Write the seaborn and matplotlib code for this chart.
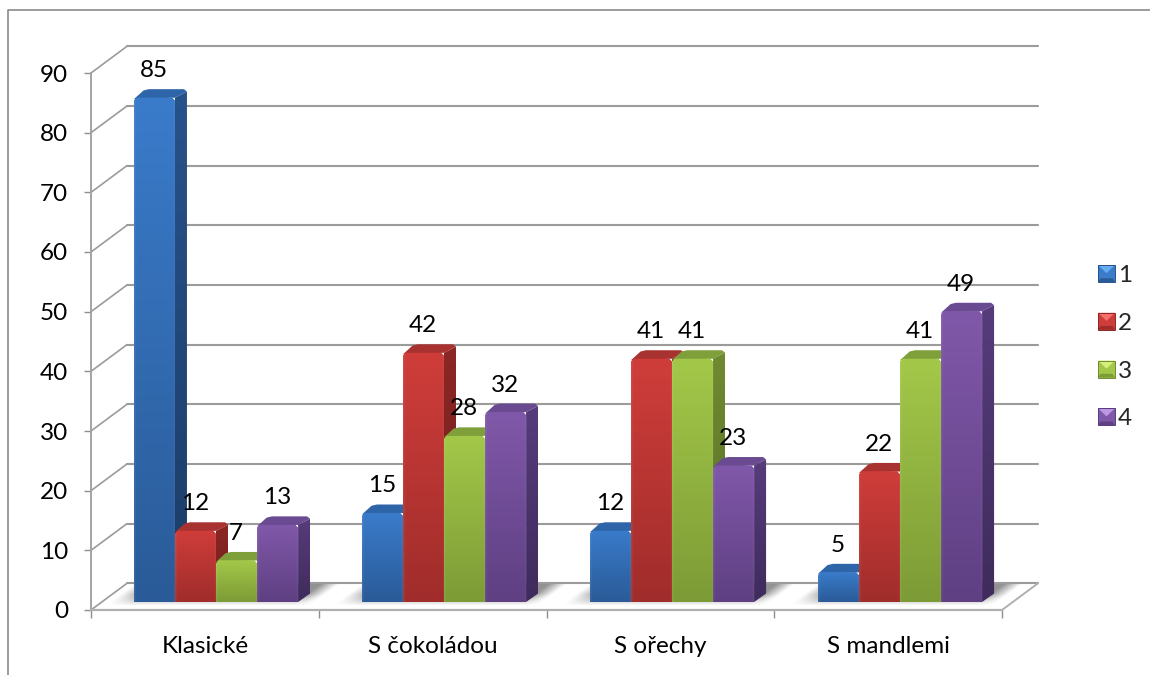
import numpy as np
import pandas as pd
import matplotlib
matplotlib.use("Agg")
import matplotlib.pyplot as plt
from matplotlib.colors import to_rgb
from matplotlib.legend_handler import HandlerBase
from matplotlib.lines import Line2D
from matplotlib.patches import Patch, Polygon, Rectangle
import seaborn as sns

categories = ["Klasické", "S čokoládou", "S ořechy", "S mandlemi"]
series_names = ["1", "2", "3", "4"]
series_1 = [85, 15, 12, 5]
series_2 = [12, 42, 41, 22]
series_3 = [7, 28, 41, 41]
series_4 = [13, 32, 23, 49]
y_ticks = list(range(0, 100, 10))

face_top = ["#3a7bca", "#cf3d3a", "#a3c849", "#8058a9"]
face_bottom = ["#2a5b98", "#a02d2b", "#7d9b36", "#5f4083"]
side_top = ["#27528a", "#8c2725", "#6f8b30", "#573c7c"]
side_bottom = ["#1c3d66", "#6f1e1c", "#586e26", "#3f2b5c"]
lid_color = ["#2e64a8", "#a83230", "#7f9f3a", "#6a4a91"]
bevel_light = ["#66aef0", "#f56f6c", "#d4f07a", "#bd97e6"]

W, H = 1150, 675
GRID_C = "#9b9b9b"
AXIS_C = "#8f8f8f"
FONT_PT = 17.5

sns.set_theme(style="white")
plt.rcParams["font.family"] = ["Lato", "DejaVu Sans"]
plt.rcParams["font.size"] = FONT_PT

fig = plt.figure(figsize=(W / 100, H / 100), dpi=100, facecolor="white")


def px_axes(left, top, right, bottom, **kw):
    return fig.add_axes([left / W, 1 - bottom / H, (right - left) / W, (bottom - top) / H], **kw)


# Outer chart frame runs past the right and lower edges of the canvas
fig.add_artist(Line2D([7.5 / W, 7.5 / W, 1.0], [0.0, 1 - 9.5 / H, 1 - 9.5 / H],
                      color="#8a8a8a", lw=1.2, transform=fig.transFigure))

# Front plane: value axis, category ticks, wall and floor grid lines
L, R, T, B = 91, 1002, 73, 610
ax = px_axes(L, T, R, B, zorder=1)
ax.set_xlim(0, 4)
ax.set_ylim(0, 90)
ax.patch.set_alpha(0)
depth_x = 36 / (R - L) * 4
depth_y = 26.7 / (B - T) * 90

for v in y_ticks:
    ax.plot([depth_x, 4 + depth_x], [v + depth_y] * 2, color=GRID_C, lw=1.5, clip_on=False, zorder=2)
    ax.plot([0, depth_x], [v, v + depth_y], color=GRID_C, lw=1.2, clip_on=False, zorder=2)
ax.plot([4, 4 + depth_x], [0, depth_y], color="#b0b0b0", lw=1.4, clip_on=False, zorder=2)

for name in ("top", "right"):
    ax.spines[name].set_visible(False)
ax.spines["left"].set_color("#a3a3a3")
ax.spines["left"].set_linewidth(1.4)
ax.spines["bottom"].set_color("#b0b0b0")
ax.spines["bottom"].set_linewidth(1.6)
ax.set_yticks(y_ticks)
ax.set_xticks(range(5))
ax.set_xticklabels([])
ax.set_xticks(np.arange(4) + 0.5, categories, minor=True)
ax.tick_params(axis="y", which="major", length=5, width=1, color=AXIS_C, pad=11.5, labelsize=FONT_PT, left=True)
ax.tick_params(axis="x", which="major", length=5.5, width=1, color=AXIS_C, bottom=True)
ax.tick_params(axis="x", which="minor", length=0, pad=18.5, labelsize=FONT_PT, bottom=False)
for lab in ax.get_yticklabels() + ax.get_xticklabels(minor=True):
    lab.set_color("black")

# Soft shadow on the floor beneath each group of bars
BAR_L, BAR_R, BAR_T, BAR_B = 102, 1014, 68, 602
pitch = (BAR_R - BAR_L) / 4
xs = np.arange(L, L + (R - L) * 1.04, 1.0)
ys = np.arange(584, 607, 1.0)
gx, gy = np.meshgrid(xs, ys)
base_x = gx - (602 - gy) * 1.33
alpha = np.zeros_like(gx)
for i in range(len(categories)):
    a = BAR_L + pitch * (i + 0.14)
    b = BAR_L + pitch * (i + 0.86)
    rise = np.clip((base_x - (a - 24)) / 24, 0, 1)
    fall = np.clip(((b + 16) - base_x) / 18, 0, 1)
    alpha = np.maximum(alpha, rise * fall)
alpha *= np.clip((606 - gy) / 12, 0, 1) * 0.85
shadow = np.ones(gx.shape + (4,)) * 0.5
shadow[..., 3] = alpha
ax.imshow(shadow, origin="upper", aspect="auto", interpolation="bilinear", zorder=1, clip_on=False,
          extent=[(xs[0] - L) / (R - L) * 4, (xs[-1] - L) / (R - L) * 4,
                  (B - ys[-1]) / (B - T) * 90, (B - ys[0]) / (B - T) * 90])
ax.set_xlim(0, 4)
ax.set_ylim(0, 90)

# Bars sit slightly behind the front plane
df = pd.DataFrame({
    "category": np.tile(categories, 4),
    "series": np.repeat(series_names, 4),
    "value": series_1 + series_2 + series_3 + series_4,
})
ax_bar = px_axes(BAR_L, BAR_T, BAR_R, BAR_B, zorder=2)
ax_bar.patch.set_alpha(0)
sns.barplot(data=df, x="category", y="value", hue="series", order=categories,
            hue_order=series_names, palette=face_top, width=0.72, gap=0, dodge=True,
            saturation=1, errorbar=None, legend=False, ax=ax_bar)
ax_bar.set_xlim(-0.5, 3.5)
ax_bar.set_ylim(0, 90)
ax_bar.axis("off")

ux = 4 / (BAR_R - BAR_L)
uy = 90 / (BAR_B - BAR_T)
side_dx = 12 * ux
side_dy = 8.5 * uy


def vertical_shade(top, bottom, n=64):
    t = np.linspace(0, 1, n)[:, None]
    return (1 - t) * np.array(to_rgb(top)) + t * np.array(to_rgb(bottom))


def shaded(verts, extent, top, bottom, z, rim=False):
    col = vertical_shade(top, bottom)[:, None, :].repeat(48, axis=1)
    if rim:
        # Pale bevel along the outer edges of the front face
        edge = np.linspace(0, 1, 48)
        glow = np.maximum(np.clip(1 - edge / 0.05, 0, 1), np.clip((edge - 0.95) / 0.05, 0, 1)) * 0.07
        col = col + (1 - col) * glow[None, :, None]
    clip = Polygon(verts, closed=True, transform=ax_bar.transData, facecolor="none", edgecolor="none")
    ax_bar.add_patch(clip)
    im = ax_bar.imshow(col, extent=extent, origin="upper", aspect="auto",
                       interpolation="bilinear", zorder=z, clip_on=True)
    im.set_clip_path(clip)
    return clip


bars = sorted([p for p in ax_bar.patches if isinstance(p, Rectangle) and p.get_height() > 0],
              key=lambda p: p.get_x())
chamfer_x = 3 * ux
chamfer_y = 3 * uy
for idx, bar in enumerate(bars):
    x0, x1 = bar.get_x(), bar.get_x() + bar.get_width()
    h = bar.get_height()
    s = face_top.index(matplotlib.colors.to_hex(bar.get_facecolor()))
    z = 3 + idx * 3
    # Bevelled lid and side wall behind the front face
    ax_bar.add_patch(Polygon([(x0, h - chamfer_y * 0.5), (x0 + side_dx * 0.8, h + side_dy * 0.85),
                              (x0 + side_dx + chamfer_x, h + side_dy),
                              (x1 + side_dx - chamfer_x, h + side_dy),
                              (x1 + side_dx, h + side_dy - chamfer_y * 0.8), (x1, h)],
                             closed=True, facecolor=lid_color[s], edgecolor="none",
                             zorder=z, clip_on=False))
    shaded([(x1, 0), (x1 + side_dx, side_dy), (x1 + side_dx, h + side_dy - chamfer_y * 0.8), (x1, h)],
           [x1, x1 + side_dx, 0, h + side_dy], side_top[s], side_bottom[s], z + 0.5)
    # Front face with softly cut upper corners
    front = [(x0, 0), (x0, h - chamfer_y), (x0 + chamfer_x, h), (x1 - chamfer_x, h),
             (x1, h - chamfer_y), (x1, 0)]
    clip = shaded(front, [x0, x1, 0, h], face_top[s], face_bottom[s], z + 1, rim=True)
    bar.set_edgecolor("none")
    bar.set_zorder(z + 0.8)
    bar.set_clip_path(clip)
    ax_bar.annotate(f"{h:.0f}", xy=((x0 + x1) / 2, h), xytext=(-0.5, 19.5), textcoords="offset points",
                    ha="center", va="center", fontsize=FONT_PT, color="black", zorder=100,
                    annotation_clip=False)

ax_bar.set_xlim(-0.5, 3.5)
ax_bar.set_ylim(0, 90)


class BevelHandler(HandlerBase):
    """Legend key drawn as a small square with a bright upper facet and dark lower band."""

    def create_artists(self, legend, orig_handle, xdescent, ydescent, width, height, fontsize, trans):
        s = orig_handle.series_index
        ll, lr, ur, ul = (0, 0), (width, 0), (width, height), (0, height)
        mid = (width / 2, height * 0.52)
        facets = [
            ([ll, lr, ur, ul], face_top[s]),
            ([ll, lr, (width * 0.85, height * 0.22), (width * 0.15, height * 0.22)], face_bottom[s]),
            ([ul, ur, mid], bevel_light[s]),
        ]
        out = []
        for verts, col in facets:
            out.append(Polygon(verts, closed=True, facecolor=col, edgecolor="none", transform=trans))
        out.append(Rectangle(ll, width, height, facecolor="none", edgecolor=side_top[s], lw=0.7, transform=trans))
        return out


handles = []
for i, name in enumerate(series_names):
    hnd = Patch(facecolor=face_top[i], label=name)
    hnd.series_index = i
    handles.append(hnd)
fig.legend(handles=handles, loc="upper left", bbox_to_anchor=(1098 / W, 1 - 265 / H),
           bbox_transform=fig.transFigure, frameon=False, fontsize=FONT_PT,
           handler_map={Patch: BevelHandler()}, handlelength=0.7, handleheight=0.7,
           handletextpad=0.12, labelspacing=1.1, borderpad=0, borderaxespad=0)

fig.savefig("out.png", dpi=100, facecolor="white")
